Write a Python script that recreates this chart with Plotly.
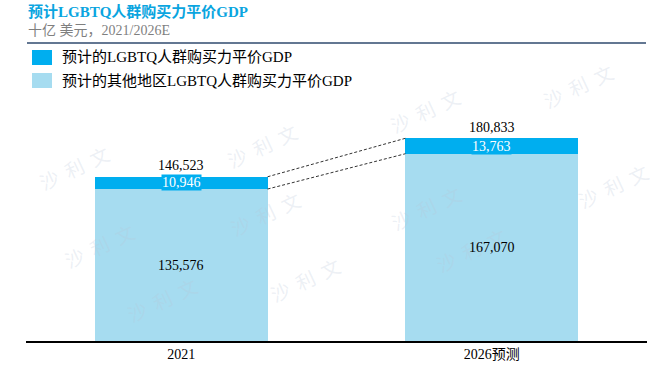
import plotly.graph_objects as go

# ---- data ----
categories = ["2021", "2026预测"]
lgbtq_gdp = [10946, 13763]          # 预计的LGBTQ人群购买力平价GDP
other_gdp = [135576, 167070]        # 预计的其他地区LGBTQ人群购买力平价GDP
totals = [146523, 180833]
series_names = ["预计的LGBTQ人群购买力平价GDP", "预计的其他地区LGBTQ人群购买力平价GDP"]
title_text = "预计LGBTQ人群购买力平价GDP"
subtitle_text = "十亿 美元，2021/2026E"

# ---- style ----
W, H = 667, 377
ML, MR, MT, MB = 26, 20, 100, 36
PW, PH = W - ML - MR, H - MT - MB
DARK = "#00AEEF"
LIGHT = "#A6DCF0"
SERIF = "Liberation Serif, Times New Roman, Noto Sans CJK SC, serif"
BAR_W = 0.556
xs = list(range(len(categories)))


def px(x):
    return (x - ML) / PW


def py(y):
    return (H - MB - y) / PH


fig = go.Figure()
fig.add_trace(go.Bar(x=xs, y=other_gdp, width=BAR_W, marker=dict(color=LIGHT, line=dict(width=0)),
                     name=series_names[1], showlegend=False, hoverinfo="skip"))
fig.add_trace(go.Bar(x=xs, y=lgbtq_gdp, width=BAR_W, marker=dict(color=DARK, line=dict(width=0)),
                     name=series_names[0], showlegend=False, hoverinfo="skip"))

ann = []
shapes = []

# faint watermarks (drawn first so data labels sit on top)
wm_pos = [(32, 137), (220, 115), (57, 245), (265, 213), (120, 330), (305, 310),
          (425, 80), (620, 55), (468, 177), (655, 155), (513, 280)]
for (wx, wy) in wm_pos:
    ann.append(dict(xref="paper", yref="paper", x=px(wx), y=py(wy), text="沙&nbsp;&nbsp;利&nbsp;&nbsp;文",
                    showarrow=False, textangle=-25,
                    font=dict(family="Noto Sans CJK SC", size=19, color="rgba(185,198,215,0.27)")))

for i, x in enumerate(xs):
    ann.append(dict(x=x, y=totals[i], yshift=11, text=f"{totals[i]:,}", showarrow=False,
                    font=dict(family=SERIF, size=14, color="black")))
    ann.append(dict(x=x, y=other_gdp[i] + lgbtq_gdp[i] / 2, text=f"{lgbtq_gdp[i]:,}", showarrow=False,
                    font=dict(family=SERIF, size=14, color="white"), bgcolor=DARK, borderpad=0))
    ann.append(dict(x=x, y=other_gdp[i] / 2, text=f"{other_gdp[i]:,}", showarrow=False,
                    font=dict(family=SERIF, size=14, color="black")))

# connector dashed lines
for vals in (totals, other_gdp):
    shapes.append(dict(type="line", xref="x", yref="y", x0=xs[0] + BAR_W / 2, y0=vals[0],
                       x1=xs[1] - BAR_W / 2, y1=vals[1],
                       line=dict(color="#333333", width=1, dash="3px,2px")))

# header line
shapes.append(dict(type="line", xref="paper", yref="paper", x0=px(27), x1=px(646), y0=py(43), y1=py(43),
                   line=dict(color="#2F4A6E", width=1.3)))

# legend
for j, (col, y0) in enumerate([(DARK, 50), (LIGHT, 73)]):
    shapes.append(dict(type="rect", xref="paper", yref="paper", x0=px(32), x1=px(52),
                       y0=py(y0), y1=py(y0 + 15), fillcolor=col, line=dict(width=0)))
    ann.append(dict(xref="paper", yref="paper", x=px(60), y=py(y0 + 7.5), xanchor="left", yanchor="middle",
                    text=series_names[j], showarrow=False,
                    font=dict(family=SERIF, size=15, color="black")))

# title & subtitle
ann.append(dict(xref="paper", yref="paper", x=px(26), y=py(12), xanchor="left", yanchor="middle",
                text=f"<b>{title_text}</b>", showarrow=False,
                font=dict(family=SERIF, size=15, color="#0AA5E0")))
ann.append(dict(xref="paper", yref="paper", x=px(26), y=py(31), xanchor="left", yanchor="middle",
                text=subtitle_text, showarrow=False,
                font=dict(family=SERIF, size=14, color="#7F7F7F")))

fig.update_layout(
    width=W, height=H, margin=dict(l=ML, r=MR, t=MT, b=MB),
    barmode="stack", bargap=0, plot_bgcolor="white", paper_bgcolor="white",
    annotations=ann, shapes=shapes, showlegend=False,
    xaxis=dict(range=[-0.5, 1.5], tickvals=xs, ticktext=categories, showline=True, linecolor="black",
               linewidth=1.5, ticks="", showgrid=False, zeroline=False, fixedrange=True,
               tickfont=dict(family=SERIF, size=14, color="black")),
    yaxis=dict(range=[0, 215000], visible=False, showgrid=False, zeroline=False, fixedrange=True),
)

fig.write_html("out.html", config={"displayModeBar": False, "staticPlot": True},
               post_script="document.body.style.margin='0';document.body.style.overflow='hidden';")
